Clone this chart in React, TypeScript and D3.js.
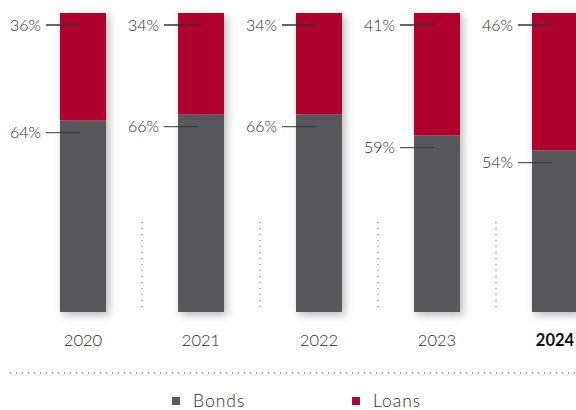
import React from "react";
import * as d3 from "d3";

const years = ["2020", "2021", "2022", "2023", "2024"];
const bonds = [64, 66, 66, 59, 54];
const loans = [36, 34, 34, 41, 46];
const legendLabels = ["Bonds", "Loans"];
const colors = { bonds: "#58595B", loans: "#B0062F" };

const W = 576;
const H = 410;

export default function App() {
  const x = d3.scalePoint<string>().domain(years).range([83, 555]);
  const y = d3.scaleLinear().domain([0, 100]).range([312, 13]);
  const bw = 46;
  const font = "Lato, 'Open Sans', sans-serif";
  const step = x.step();
  const textFill = "#2a2a2a";

  return (
    <svg width={W} height={H} style={{ position: "absolute", left: 0, top: 0 }}>
      <defs>
        <filter id="sh" x="-30%" y="-10%" width="170%" height="130%">
          <feDropShadow dx="3" dy="3" stdDeviation="4" floodColor="#000" floodOpacity="0.28" />
        </filter>
      </defs>
      {years.slice(0, -1).map((yr) => (
        <line
          key={"sep" + yr}
          x1={(x(yr) as number) + step / 2}
          x2={(x(yr) as number) + step / 2}
          y1={222}
          y2={312}
          stroke="#8a8a8a"
          strokeWidth={1.3}
          strokeDasharray="1.3 4.7"
        />
      ))}
      {years.map((yr, i) => {
        const cx = x(yr) as number;
        const yb = y(bonds[i]);
        return (
          <g key={yr}>
            <g filter="url(#sh)">
              <rect x={cx - bw / 2} y={y(100)} width={bw} height={yb - y(100)} fill={colors.loans} />
              <rect x={cx - bw / 2} y={yb} width={bw} height={y(0) - yb} fill={colors.bonds} />
            </g>
            <line x1={cx - 37} x2={cx - 3} y1={y(100) + 12} y2={y(100) + 12} stroke="#333" strokeWidth={1.3} />
            <line x1={cx - 37} x2={cx - 3} y1={yb + 12} y2={yb + 12} stroke="#333" strokeWidth={1.3} strokeOpacity={0.8} />
            <text x={cx - 42} y={y(100) + 12} dy="0.35em" textAnchor="end" fontFamily={font} fontWeight={300} fontSize={16} fill={textFill}>
              {loans[i]}%
            </text>
            <text x={cx - 42} y={yb + 12} dy="0.35em" textAnchor="end" fontFamily={font} fontWeight={300} fontSize={16} fill={textFill}>
              {bonds[i]}%
            </text>
            <text
              x={cx}
              y={346}
              textAnchor="middle"
              fontFamily={font}
              fontWeight={i === years.length - 1 ? 700 : 300}
              fontSize={16.5}
              fill={i === years.length - 1 ? "#111" : textFill}
            >
              {yr}
            </text>
          </g>
        );
      })}
      <line x1={10} x2={576} y1={373} y2={373} stroke="#8a8a8a" strokeWidth={1.3} strokeDasharray="1.3 4.7" />
      {legendLabels.map((l, i) => {
        const lx = [172, 352][i];
        return (
          <g key={l}>
            <rect x={lx} y={397} width={8} height={8} fill={i === 0 ? colors.bonds : colors.loans} />
            <text x={lx + 21} y={407} fontFamily={font} fontWeight={300} fontSize={17.5} fill={textFill} letterSpacing={1}>
              {l}
            </text>
          </g>
        );
      })}
    </svg>
  );
}
